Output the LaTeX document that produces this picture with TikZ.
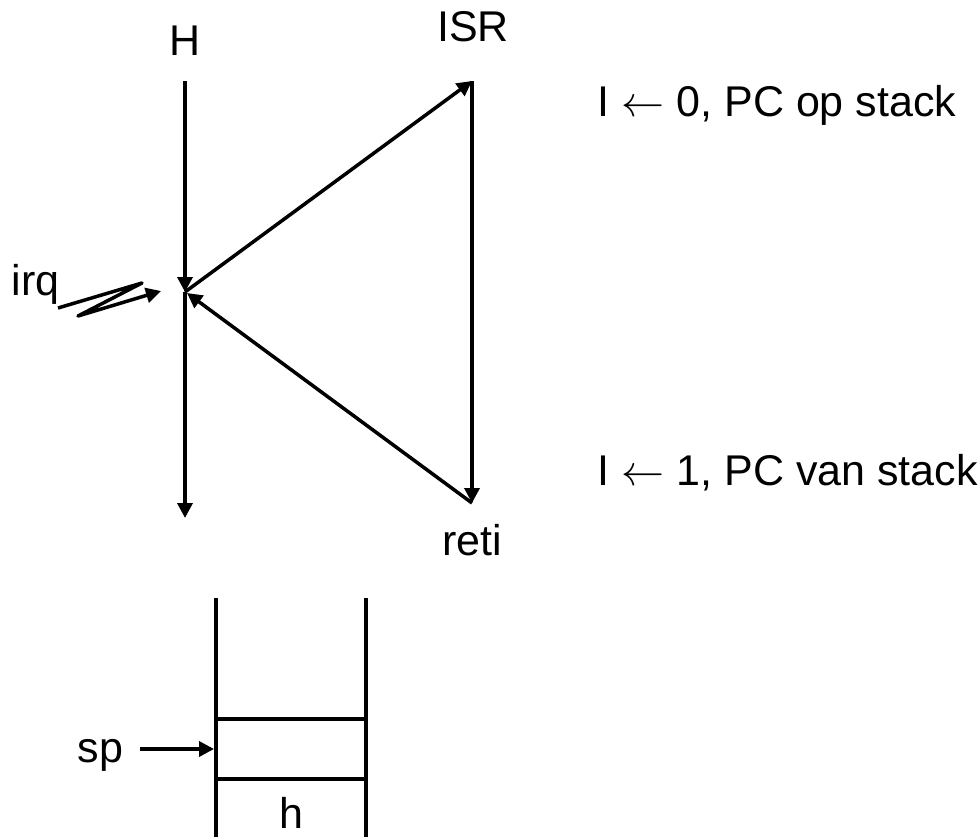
\RequirePackage{fix-cm}
\documentclass[tikz,border=0pt]{standalone}
\usepackage{fontspec}
\setmainfont{Liberation Sans}
\usetikzlibrary{arrows.meta}
\begin{document}
\begin{tikzpicture}[x=1pt,y=-1pt,
  line width=3.5pt,
  arr/.style={-{Triangle[length=15pt,width=15pt]}},
  lbl/.style={inner sep=0pt,font=\fontsize{43}{50}\selectfont}]
\useasboundingbox (0,0) rectangle (980,837);
% coordinates
\coordinate (Htop) at (185,81);
\coordinate (J) at (185,292);
\coordinate (Jin) at (187,293);
\coordinate (Hbot) at (185,518);
\coordinate (Itop) at (472,81);
\coordinate (Ibot) at (472,503);
% labels
\node[lbl,anchor=base] (H) at (185,56) {H};
\node[lbl,anchor=base] (ISR) at (473,42) {ISR};
\node[lbl,anchor=base] (reti) at (472,555) {reti};
\node[lbl,anchor=base west] (t0) at (596,117) {I $\leftarrow$ 0, PC op stack};
\node[lbl,anchor=base west] (t1) at (596,485) {I $\leftarrow$ 1, PC van stack};
\node[lbl,anchor=base west] (irq) at (10,295) {irq};
% main lines
\draw[arr] (Htop) -- (J);
\draw[arr] (J) -- (Hbot);
\draw[arr] (Itop) -- (Ibot);
\draw[arr] (J) -- (Itop);
\draw[arr] (Ibot) -- (Jin);
% irq zigzag
\coordinate (z0) at (58,308);
\coordinate (z1) at (142,283);
\coordinate (z2) at (78,316);
\coordinate (z3) at (161,291);
\draw[arr,line join=round] (z0) -- (z1) -- (z2) -- (z3);
% stack
\coordinate (SLt) at (216,598);
\coordinate (SLb) at (216,837);
\coordinate (SRt) at (366,598);
\coordinate (SRb) at (366,837);
\coordinate (S1l) at (216,719);
\coordinate (S1r) at (366,719);
\coordinate (S2l) at (216,779);
\coordinate (S2r) at (366,779);
\draw (SLt) -- (SLb);
\draw (SRt) -- (SRb);
\draw (S1l) -- (S1r);
\draw (S2l) -- (S2r);
\node[lbl,anchor=base west] (sp) at (76,762) {sp};
\coordinate (spS) at (140,749);
\coordinate (spE) at (214,749);
\draw[arr] (spS) -- (spE);
\node[lbl,anchor=base] (h) at (291,828) {h};
\end{tikzpicture}
\end{document}
